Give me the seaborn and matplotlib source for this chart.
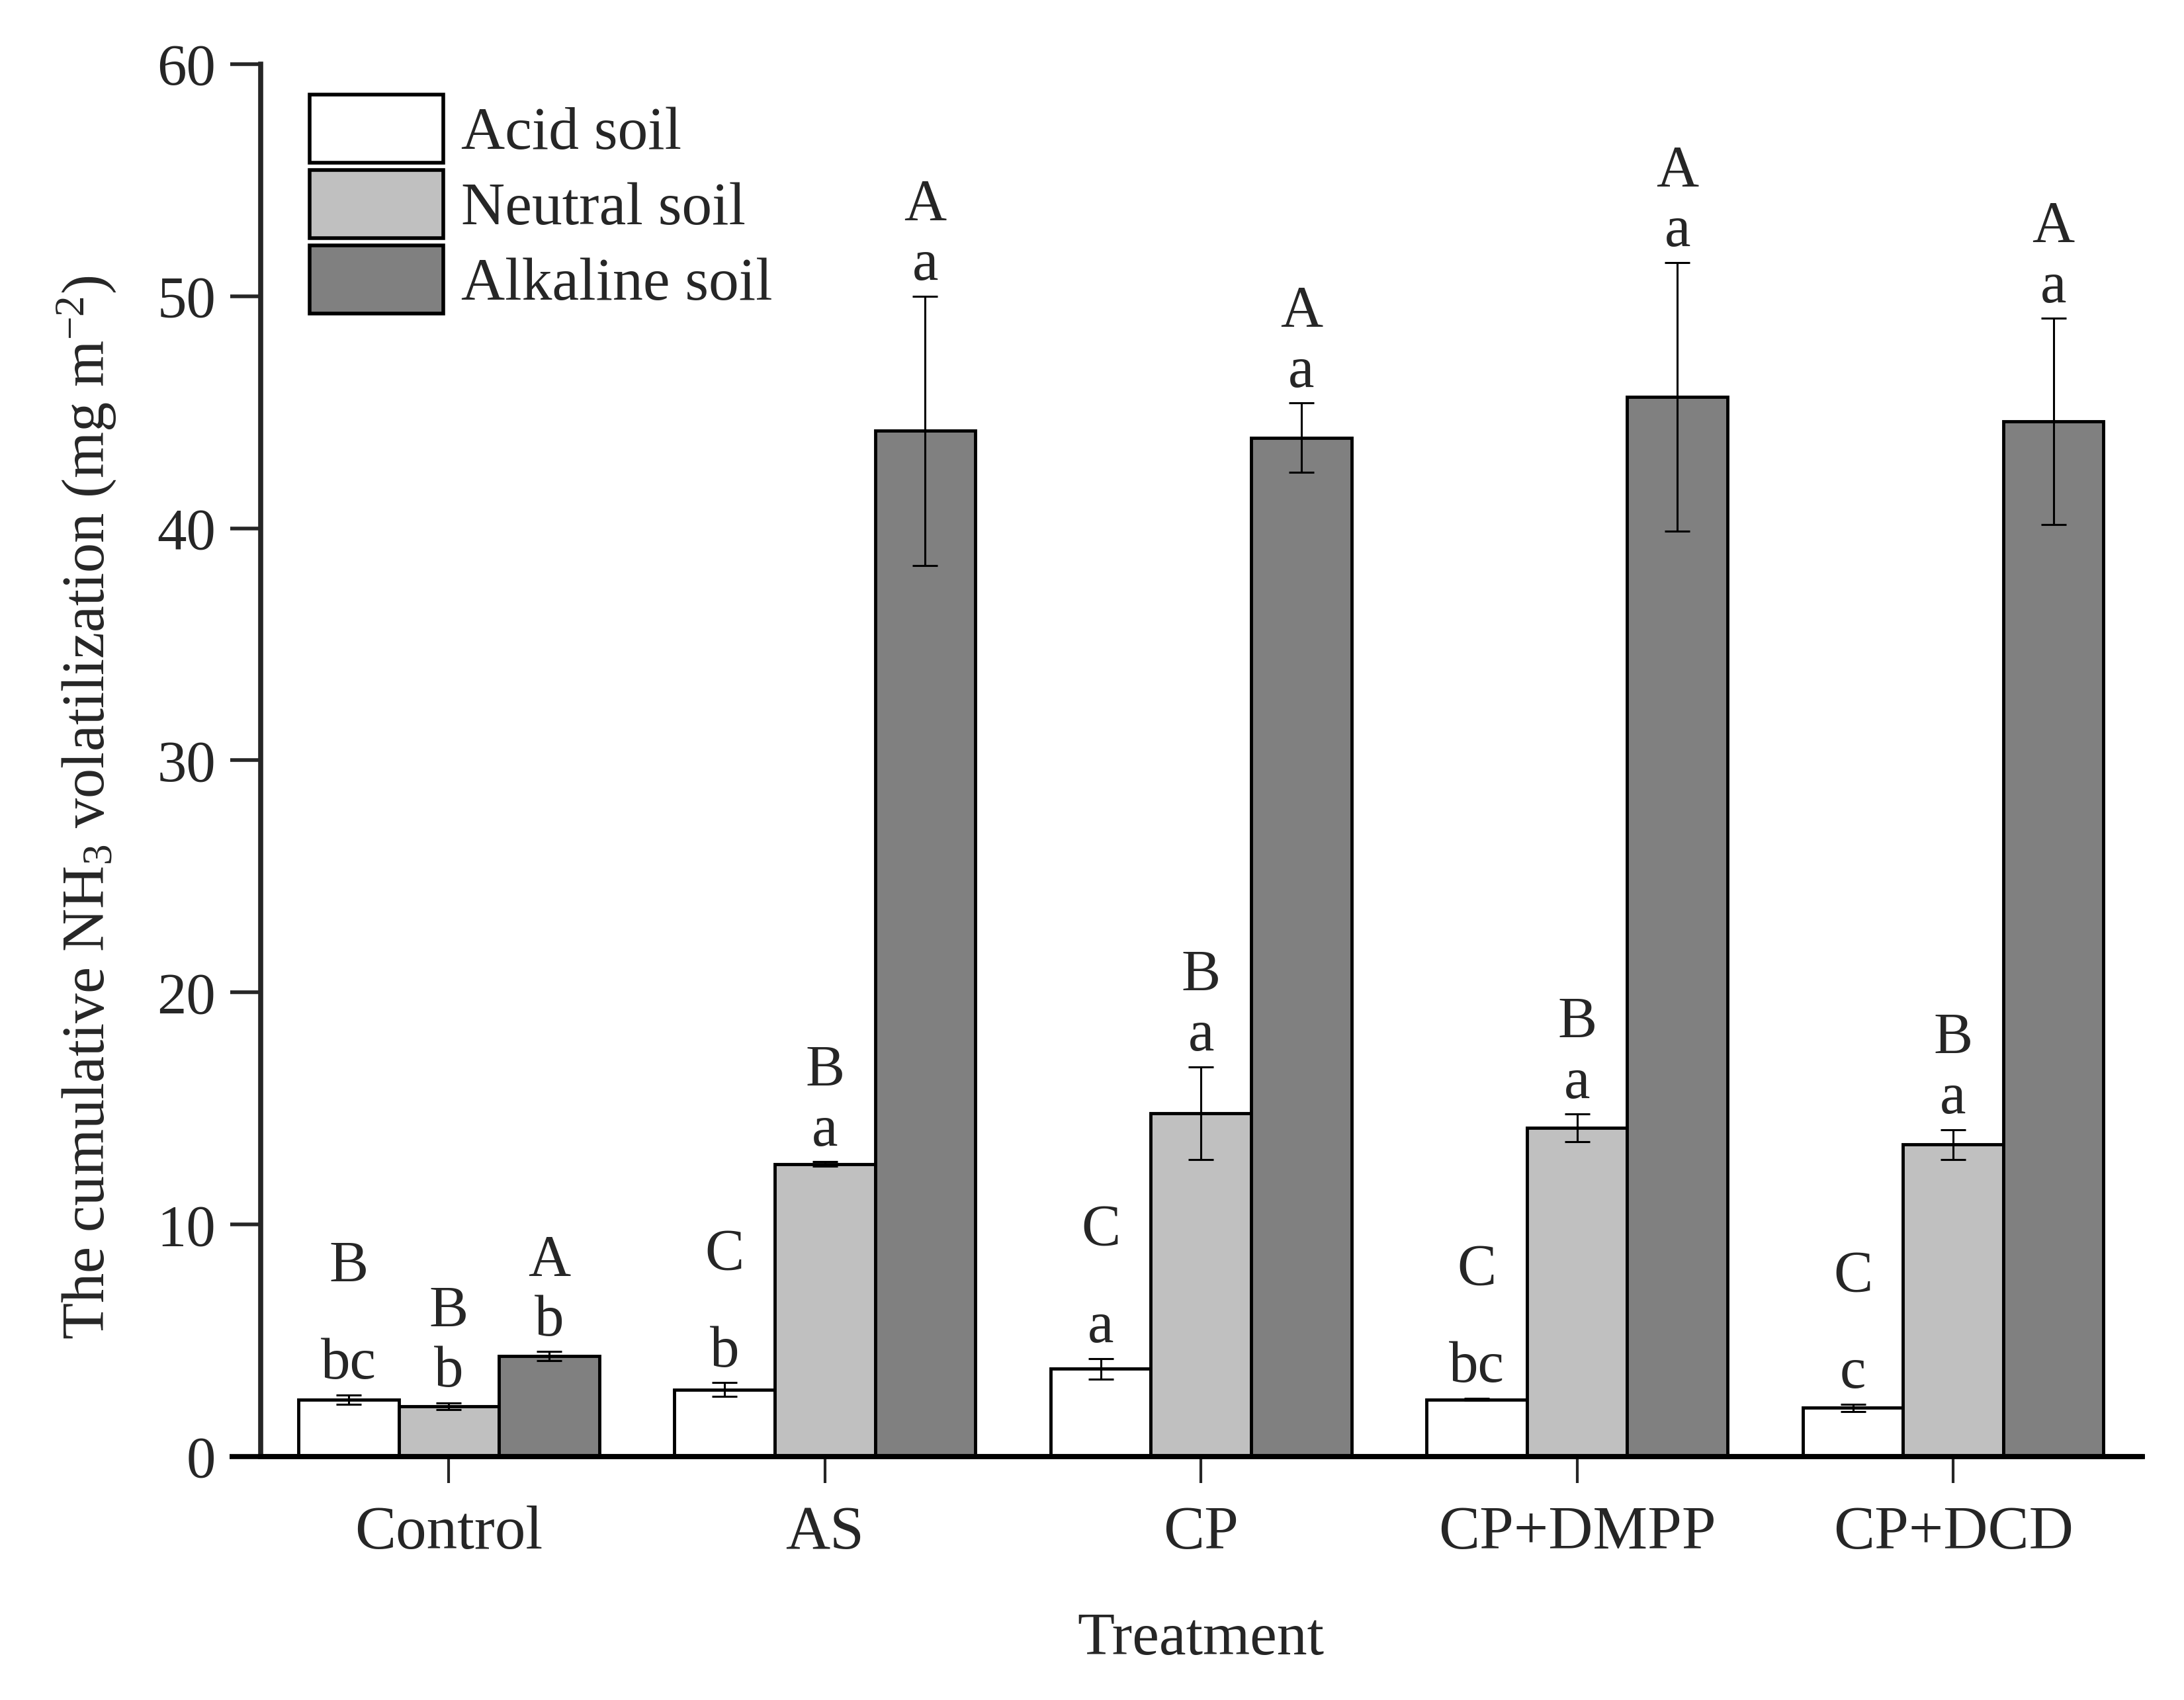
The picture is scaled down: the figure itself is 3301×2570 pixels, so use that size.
import numpy as np
import pandas as pd
import matplotlib
matplotlib.use("Agg")
import matplotlib.pyplot as plt
import seaborn as sns
from matplotlib.patches import Patch

# data (mg m-2)
treatments = ["Control", "AS", "CP", "CP+DMPP", "CP+DCD"]
soils = ["Acid soil", "Neutral soil", "Alkaline soil"]

acid_mean = [2.46, 2.88, 3.78, 2.46, 2.10]
acid_err = [0.20, 0.30, 0.45, 0.05, 0.15]
neutral_mean = [2.16, 12.6, 14.8, 14.16, 13.44]
neutral_err = [0.15, 0.10, 2.00, 0.60, 0.65]
alkaline_mean = [4.32, 44.2, 43.9, 45.66, 44.6]
alkaline_err = [0.20, 5.80, 1.50, 5.80, 4.45]

# significance letters: lowercase = between treatments, uppercase = between soils
acid_lower = ["bc", "b", "a", "bc", "c"]
neutral_lower = ["b", "a", "a", "a", "a"]
alkaline_lower = ["b", "a", "a", "a", "a"]
acid_upper = ["B", "C", "C", "C", "C"]
neutral_upper = ["B", "B", "B", "B", "B"]
alkaline_upper = ["A", "A", "A", "A", "A"]

means = [acid_mean, neutral_mean, alkaline_mean]
errs = [acid_err, neutral_err, alkaline_err]
lowers = [acid_lower, neutral_lower, alkaline_lower]
uppers = [acid_upper, neutral_upper, alkaline_upper]

rows = []
for s, m in zip(soils, means):
  for t, v in zip(treatments, m):
    rows.append({"Treatment": t, "Soil": s, "value": v})
df = pd.DataFrame(rows)

sns.set_style("ticks")
plt.rcParams["font.family"] = ["Liberation Serif", "DejaVu Serif"]
plt.rcParams["mathtext.fontset"] = "custom"
plt.rcParams["mathtext.rm"] = "Liberation Serif"
plt.rcParams["mathtext.it"] = "Liberation Serif:italic"

colors = ["white", "#c0c0c0", "#808080"]
fs = 66

fig = plt.figure(figsize=(33.01, 25.70), dpi=100)
ax = fig.add_axes([0.1194, 0.1432, 0.861, 0.8191])

sns.barplot(data=df, x="Treatment", y="value", hue="Soil", order=treatments,
            hue_order=soils, palette=colors, edgecolor="black", linewidth=3.5,
            width=0.8, gap=0, errorbar=None, legend=False, ax=ax)

# error bars and letters placed on the bars seaborn drew
bar_groups = list(ax.containers)
upper_gap = {"Acid soil": 4.2, "Neutral soil": 2.6, "Alkaline soil": 2.6}
for k, cont in enumerate(bar_groups):
  xs = [p.get_x() + p.get_width() / 2 for p in cont]
  hs = [p.get_height() for p in cont]
  ax.errorbar(xs, hs, yerr=errs[k], fmt="none", ecolor="black",
              elinewidth=2.2, capsize=14, capthick=2.2, zorder=5)
  for x, h, e, lo, up in zip(xs, hs, errs[k], lowers[k], uppers[k]):
    base = h + e + 0.7
    ax.text(x, base, lo, ha="center", va="baseline", fontsize=fs - 2)
    ax.text(x, base + upper_gap[soils[k]], up, ha="center", va="baseline", fontsize=fs - 2)

ax.set_xlim(-0.5, 4.5)
ax.set_ylim(0, 60)
ax.set_yticks(np.arange(0, 61, 10))
sns.despine(ax=ax)
for sp in ["left", "bottom"]:
  ax.spines[sp].set_linewidth(5.5)
# x axis line runs out to the end of the y ticks
ax.plot([-0.0165, 1.002], [0, 0], transform=ax.transAxes, color="black",
        lw=5.5, clip_on=False, solid_capstyle="butt", zorder=6)

ax.tick_params(axis="y", direction="out", length=33, width=4, pad=16, labelsize=fs - 2)
ax.tick_params(axis="x", direction="out", length=29, width=3, pad=24, labelsize=fs + 1)

ax.set_xlabel("Treatment", fontsize=fs)
ax.set_ylabel("The cumulative NH$_3$ volatilization (mg m$^{-2}$)", fontsize=fs - 1)
ax.xaxis.set_label_coords(0.5, -0.112)
ax.yaxis.set_label_coords(-0.076, 0.466)

handles = [Patch(facecolor=c, edgecolor="black", linewidth=4, label=s)
           for c, s in zip(colors, soils)]
ax.legend(handles=handles, loc="upper left", bbox_to_anchor=(0.026, 0.978),
          frameon=False, fontsize=fs, handlelength=2.2, handleheight=1.35,
          labelspacing=0.12, handletextpad=0.3, borderpad=0, borderaxespad=0)

fig.savefig("out.png", dpi=100)
